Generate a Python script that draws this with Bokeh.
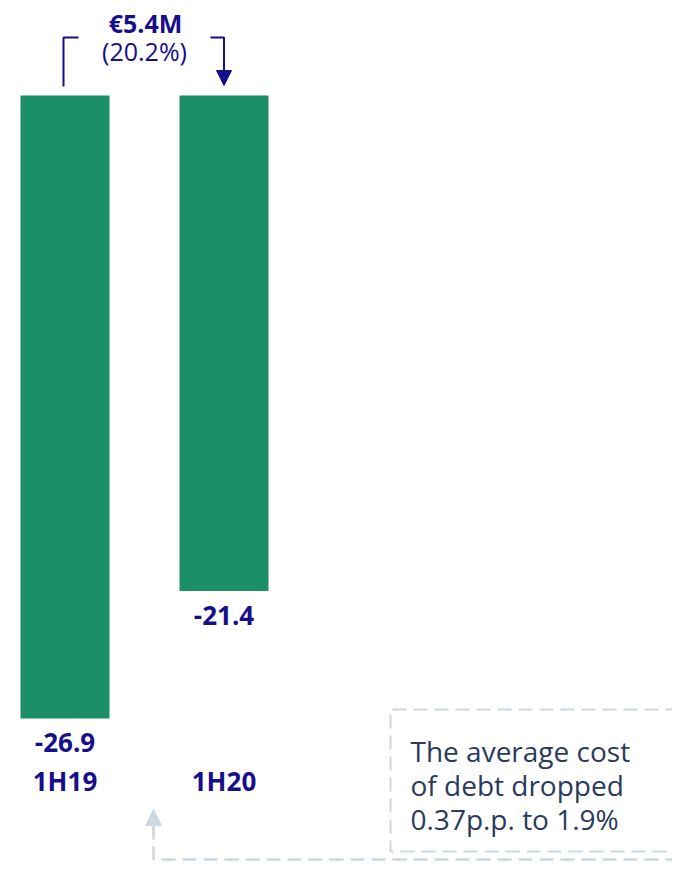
from bokeh.plotting import figure
from bokeh.models import Range1d, Arrow, NormalHead, ColumnDataSource
from bokeh.core.properties import value
from bokeh.embed import file_html
from bokeh.resources import INLINE

# ---- data ----
categories = ["1H19", "1H20"]
values = [-26.9, -21.4]
value_labels = ["-26.9", "-21.4"]
change_amount = "€5.4M"
change_pct = "(20.2%)"
note_lines = ["The average cost", "of debt dropped", "0.37p.p. to 1.9%"]

# ---- layout helpers (screen px -> data units) ----
W, H = 672, 861
PX_PER_UNIT_Y = 23.16   # px per value unit
ZERO_Y = 95              # screen y of value 0
PX_PER_UNIT_X = 159      # px between category centres
FIRST_X = 64.5           # screen x of first category centre


def py(s):
    return -(s - ZERO_Y) / PX_PER_UNIT_Y


def px(s):
    return (s - FIRST_X) / PX_PER_UNIT_X


NAVY = "#170e8c"
GREEN = "#1b9068"
DASH_COL = "#ccd9e3"
NOTE_COL = "#2a3a5c"

p = figure(width=W, height=H, output_backend="svg", toolbar_location=None,
           x_range=Range1d(px(0), px(W)), y_range=Range1d(py(H), py(0)),
           min_border=0, outline_line_color=None, background_fill_color="white")
p.axis.visible = False
p.grid.visible = False

xs = list(range(len(categories)))
src = ColumnDataSource(dict(x=xs, v=values, lab=value_labels, cat=categories,
                            ly=[v - 24 / PX_PER_UNIT_Y for v in values]))

p.vbar(x="x", top=0, bottom="v", width=89 / PX_PER_UNIT_X, source=src,
       fill_color=GREEN, line_color=None)

# value labels below bars
p.text(x="x", y="ly", text="lab", source=src, text_align="center",
       text_baseline="middle", text_font=value("Open Sans"),
       text_font_style="bold", text_font_size="26px", text_color=NAVY)

# category labels
p.text(x="x", y=py(780), text="cat", source=src, text_align="center",
       text_baseline="middle", text_font=value("Open Sans"),
       text_font_style="bold", text_font_size="26px", text_color=NAVY)

# top change annotation
p.text(x=[px(145)], y=[py(22)], text=[change_amount], text_align="center",
       text_baseline="middle", text_font=value("Open Sans"),
       text_font_style="bold", text_font_size="25px", text_color=NAVY)
p.text(x=[px(144)], y=[py(50)], text=[change_pct], text_align="center",
       text_baseline="middle", text_font=value("Open Sans"),
       text_font_size="25px", text_color=NAVY)

p.line(x=[xs[0] - 1.5 / PX_PER_UNIT_X, xs[0] - 1.5 / PX_PER_UNIT_X, px(78)],
       y=[py(86), py(37), py(37)], line_color=NAVY, line_width=2)
p.line(x=[px(210), px(223.5), px(223.5)], y=[py(37), py(37), py(72)],
       line_color=NAVY, line_width=2)
p.add_layout(Arrow(end=NormalHead(size=15, fill_color=NAVY, line_color=NAVY),
                   x_start=px(223.5), y_start=py(70), x_end=px(223.5), y_end=py(85),
                   line_color=NAVY, line_width=2))

# dashed note box
p.line(x=[px(700), px(390), px(390), px(700)], y=[py(709), py(709), py(851), py(851)],
       line_color=DASH_COL, line_width=2, line_dash="14 7")
for i, t in enumerate(note_lines):
    p.text(x=[px(410)], y=[py(750 + 34 * i)], text=[t], text_align="left",
           text_baseline="middle", text_font=value("Open Sans"),
           text_font_size="28px", text_color=NOTE_COL)

# dashed connector with arrow
p.line(x=[px(700), px(153), px(153)], y=[py(859), py(859), py(826)],
       line_color=DASH_COL, line_width=2.5, line_dash="14 7")
p.add_layout(Arrow(end=NormalHead(size=16, fill_color=DASH_COL, line_color=DASH_COL),
                   x_start=px(153), y_start=py(834), x_end=px(153), y_end=py(809),
                   line_color=DASH_COL, line_width=2.5))

open("out.html", "w").write(file_html(p, INLINE))
